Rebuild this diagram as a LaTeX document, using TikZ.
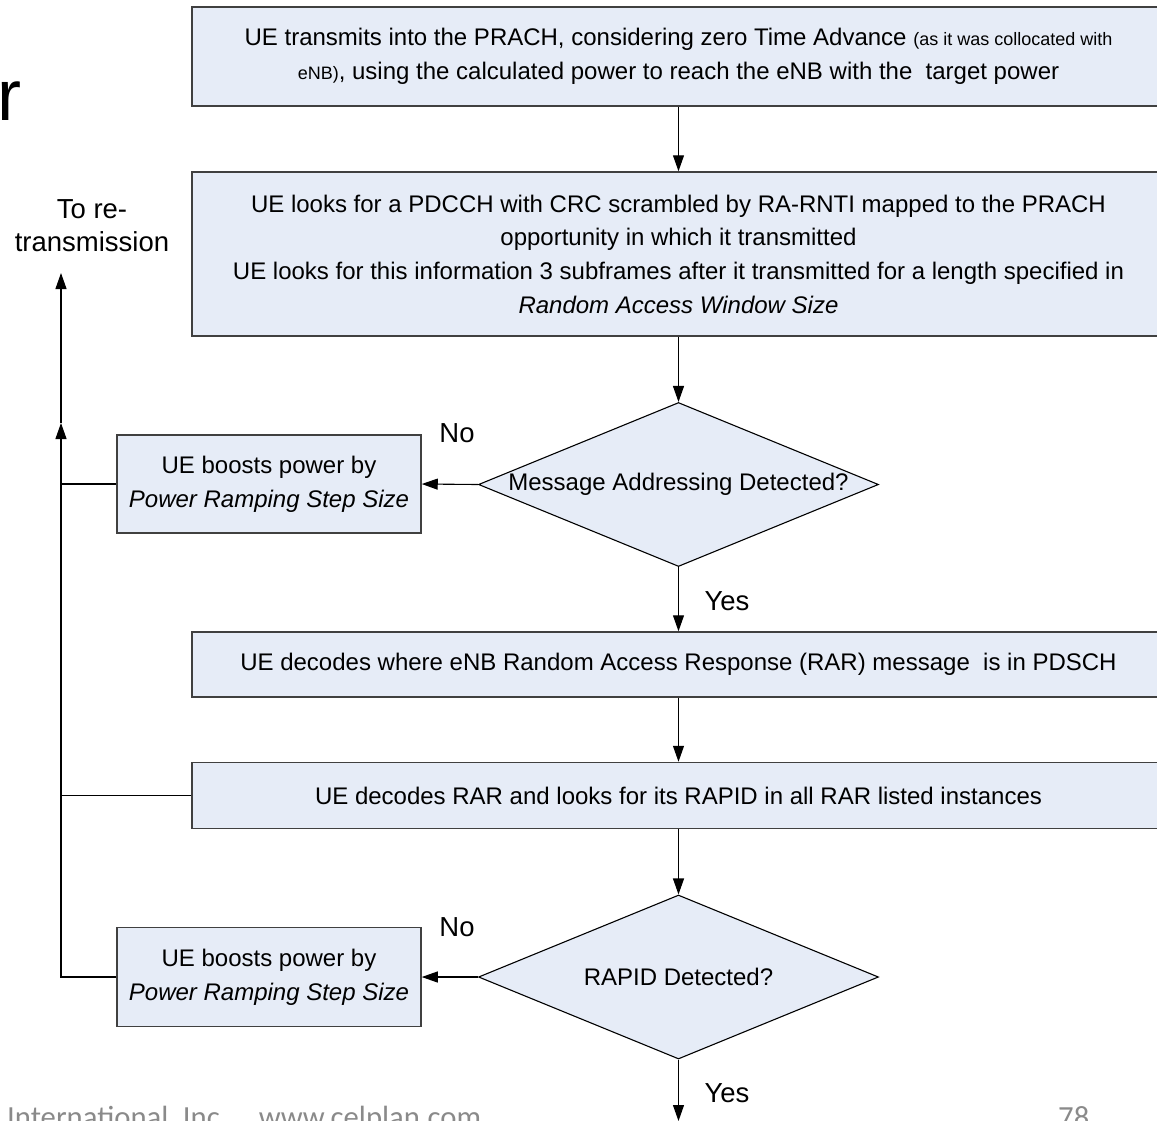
\documentclass[tikz,border=0pt]{standalone}
\usepackage{fontspec}
\setmainfont{Liberation Sans}
\newfontfamily\ftfont{Carlito}
\usetikzlibrary{shapes.geometric,arrows.meta}
\definecolor{boxfill}{HTML}{E6ECF7}
\definecolor{boxline}{HTML}{404040}
\definecolor{footgray}{HTML}{8A8A8A}
\newcommand\bxfont{\fontsize{24}{33.7}\selectfont}
\newcommand\smfont{\fontsize{18}{33.7}\selectfont}
\newcommand\lbfont{\fontsize{27.5}{33}\selectfont}
\begin{document}
\begin{tikzpicture}[x=1pt,y=-1pt,
  wbox/.style={draw=boxline,fill=boxfill,line width=1.5pt,rectangle,inner sep=0pt,align=center,font=\bxfont},
  dbox/.style={draw=black,fill=boxfill,line width=1.1pt,diamond,inner sep=0pt,minimum width=400pt,minimum height=164pt,font=\bxfont},
  conn/.style={line width=1.1pt,draw=black},
  arr/.style={conn,-{Triangle[length=16pt,width=11pt]}},
  lbl/.style={font=\lbfont,inner sep=0pt,align=center}]
\clip (0,0) rectangle (1157,1120);
% partial title letter
\node[anchor=base west,inner sep=0pt,font=\fontsize{72}{72}\selectfont] (title) at (-3,120) {r};
% boxes
\node[wbox,minimum width=973pt,minimum height=99pt] (b1) at (678.5,56.5)
  {UE transmits into the PRACH, considering zero Time Advance {\smfont(as it was collocated with}\\
   {\smfont eNB)}, using the calculated power to reach the eNB with the\ \ target power};
\node[wbox,minimum width=973pt,minimum height=164pt] (b2) at (678.5,254)
  {UE looks for a PDCCH with CRC scrambled by RA-RNTI mapped to the PRACH\\
   opportunity in which it transmitted\\
   UE looks for this information 3 subframes after it transmitted for a length specified in\\
   \textit{Random Access Window Size}};
\node[dbox] (d1) at (678.5,484.5) {\makebox[0pt]{Message Addressing Detected?}};
\node[wbox,minimum width=304pt,minimum height=98pt] (p1) at (269,484)
  {UE boosts power by\\ \textit{Power Ramping Step Size}};
\node[wbox,minimum width=973pt,minimum height=65pt] (b4) at (678.5,664.5)
  {UE decodes where eNB Random Access Response (RAR) message\ \ is in PDSCH};
\node[wbox,minimum width=973pt,minimum height=66pt] (b5) at (678.5,795.5)
  {UE decodes RAR and looks for its RAPID in all RAR listed instances};
\node[dbox] (d2) at (678.5,977) {\makebox[0pt]{RAPID Detected?}};
\node[wbox,minimum width=304pt,minimum height=99pt] (p2) at (269,977)
  {UE boosts power by\\ \textit{Power Ramping Step Size}};
% labels
\node[lbl] (retx) at (92,226) {To re-\\transmission};
\node[lbl] (no1) at (457,433) {No};
\node[lbl] (yes1) at (727,601) {Yes};
\node[lbl] (no2) at (457,927) {No};
\node[lbl] (yes2) at (727,1093) {Yes};
% footer
\node[anchor=base west,inner sep=0pt,text=footgray,font=\ftfont\fontsize{30.7}{30.7}\selectfont] (foot) at (7,1127)
  {International, Inc.\hspace{22pt} www.celplan.com};
\node[anchor=base west,inner sep=0pt,text=footgray,font=\ftfont\fontsize{30.7}{30.7}\selectfont] (page) at (1058,1127) {78};
% coordinates
\coordinate (top) at (61,273);
\coordinate (mid) at (61,423);
\coordinate (j1) at (61,484);
\coordinate (j5) at (61,795.5);
\coordinate (jb) at (61,977);
\coordinate (end) at (678.5,1121);
% connectors
\draw[arr] (b1.south) -- (b2.north);
\draw[arr] (b2.south) -- (d1.north);
\draw[arr] (d1.west) -- (p1.east);
\draw[arr] (d1.south) -- (b4.north);
\draw[arr] (b4.south) -- (b5.north);
\draw[arr] (b5.south) -- (d2.north);
\draw[arr] (d2.west) -- (p2.east);
\draw[arr] (d2.south) -- (end);
\draw[conn] (p2.west) -- (jb) -- (j1);
\draw[conn] (b5.west) -- (j5);
\draw[conn] (p1.west) -- (j1);
\draw[arr] (j1) -- (mid);
\draw[arr] (mid) -- (top);
\end{tikzpicture}
\end{document}
